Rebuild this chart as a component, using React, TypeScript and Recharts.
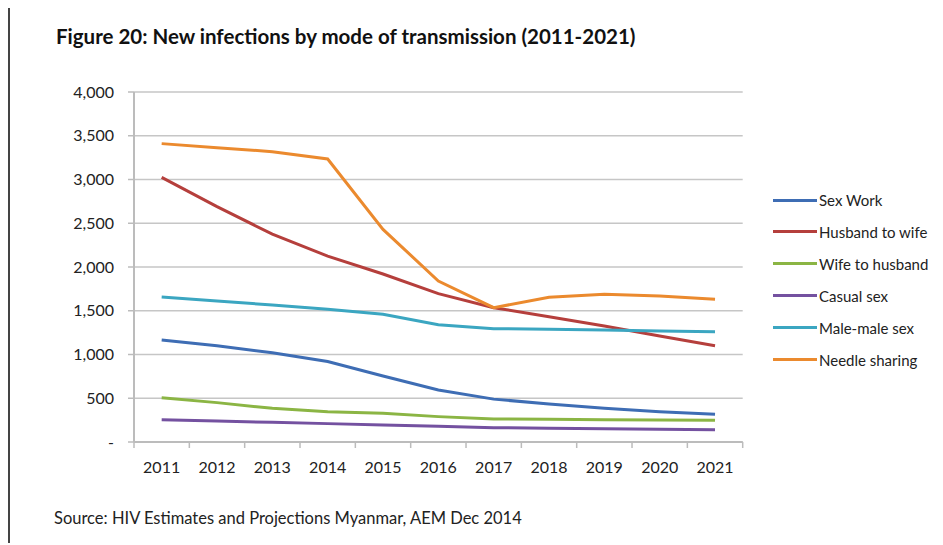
import { LineChart, Line, XAxis, YAxis, CartesianGrid } from 'recharts'

const YEARS = ['2011', '2012', '2013', '2014', '2015', '2016', '2017', '2018', '2019', '2020', '2021']

const SEX_WORK = [1165, 1100, 1020, 920, 755, 595, 490, 435, 385, 347, 316]
const HUSBAND_TO_WIFE = [3025, 2690, 2375, 2125, 1920, 1695, 1535, 1432, 1326, 1211, 1101]
const WIFE_TO_HUSBAND = [507, 450, 385, 347, 328, 290, 263, 259, 255, 251, 248]
const CASUAL_SEX = [255, 240, 225, 210, 194, 179, 164, 156, 152, 145, 141]
const MALE_MALE_SEX = [1657, 1611, 1566, 1516, 1459, 1340, 1295, 1288, 1280, 1269, 1261]
const NEEDLE_SHARING = [3410, 3364, 3318, 3234, 2430, 1840, 1535, 1653, 1688, 1669, 1631]

const Y_TICKS = [0, 500, 1000, 1500, 2000, 2500, 3000, 3500, 4000]

const SERIES = [
  { key: 'sexWork', name: 'Sex Work', values: SEX_WORK, color: '#3E6DB4' },
  { key: 'husbandToWife', name: 'Husband to wife', values: HUSBAND_TO_WIFE, color: '#B53F3C' },
  { key: 'wifeToHusband', name: 'Wife to husband', values: WIFE_TO_HUSBAND, color: '#8BB544' },
  { key: 'casualSex', name: 'Casual sex', values: CASUAL_SEX, color: '#7451A0' },
  { key: 'maleMaleSex', name: 'Male-male sex', values: MALE_MALE_SEX, color: '#3BA6C1' },
  { key: 'needleSharing', name: 'Needle sharing', values: NEEDLE_SHARING, color: '#EB8A2E' },
]

const data = YEARS.map((year, i) => {
  const row: Record<string, string | number> = { year }
  for (const s of SERIES) row[s.key] = s.values[i]
  return row
})

const FONT = 'Lato, "Open Sans", sans-serif'
const AXIS = '#bcbcbc'
const PLOT_W = 608.7
const BAND = PLOT_W / YEARS.length

function YearTick(props: any) {
  const { x, y, payload, index } = props
  const half = BAND / 2
  return (
    <g>
      <line x1={x - half} x2={x - half} y1={y} y2={y + 6} stroke={AXIS} strokeWidth={1.5} />
      {index === YEARS.length - 1 && (
        <line x1={x + half} x2={x + half} y1={y} y2={y + 6} stroke={AXIS} strokeWidth={1.5} />
      )}
      <text x={x} y={y + 24} textAnchor="middle" dominantBaseline="central" fill="#222" fontSize={16} fontFamily={FONT}>
        {payload.value}
      </text>
    </g>
  )
}

const fmt = (v: number) => (v === 0 ? '-' : v.toLocaleString('en-US'))

export default function App() {
  return (
    <div
      style={{
        position: 'relative',
        top: -2,
        width: 935,
        height: 537,
        borderLeft: '2px solid #444',
        borderTop: '2px solid #444',
        boxSizing: 'border-box',
        fontFamily: FONT,
        color: '#222',
        background: '#fff',
      }}
    >
      <div style={{ position: 'absolute', left: 46, top: 16, fontSize: 20.5, fontWeight: 700, color: '#111', whiteSpace: 'nowrap' }}>
        Figure 20: New infections by mode of transmission (2011-2021)
      </div>

      <div style={{ position: 'absolute', left: 0, top: 0 }}>
        <LineChart width={740} height={480} data={data} margin={{ top: 84, right: 7.3, bottom: 6, left: 0 }}>
          <CartesianGrid vertical={false} stroke="#c6c6c6" strokeWidth={1.5} />
          <XAxis
            dataKey="year"
            height={40}
            padding={{ left: BAND / 2, right: BAND / 2 }}
            axisLine={{ stroke: AXIS, strokeWidth: 2 }}
            tickLine={false}
            tickSize={0}
            tickMargin={0}
            tick={<YearTick />}
            interval={0}
          />
          <YAxis
            width={124}
            domain={[0, 4000]}
            ticks={Y_TICKS}
            tickFormatter={fmt}
            axisLine={{ stroke: AXIS, strokeWidth: 2 }}
            tickLine={{ stroke: AXIS, strokeWidth: 1.5 }}
            tickSize={6}
            tickMargin={14}
            tick={{ fill: '#222', fontSize: 16, fontFamily: FONT }}
          />
          {SERIES.map((s) => (
            <Line
              key={s.key}
              type="linear"
              dataKey={s.key}
              name={s.name}
              stroke={s.color}
              strokeWidth={3}
              dot={false}
              isAnimationActive={false}
            />
          ))}
        </LineChart>
      </div>

      {SERIES.map((s, i) => (
        <div
          key={s.key}
          style={{
            position: 'absolute',
            left: 763,
            top: 182 + i * 31.9,
            height: 20,
            display: 'flex',
            alignItems: 'center',
            fontSize: 15,
            whiteSpace: 'nowrap',
          }}
        >
          <div style={{ width: 44, height: 3, background: s.color, marginRight: 2 }} />
          <span>{s.name}</span>
        </div>
      ))}

      <div style={{ position: 'absolute', left: 44, top: 500, fontSize: 16.5, whiteSpace: 'nowrap' }}>
        Source: HIV Estimates and Projections Myanmar, AEM Dec 2014
      </div>
    </div>
  )
}
